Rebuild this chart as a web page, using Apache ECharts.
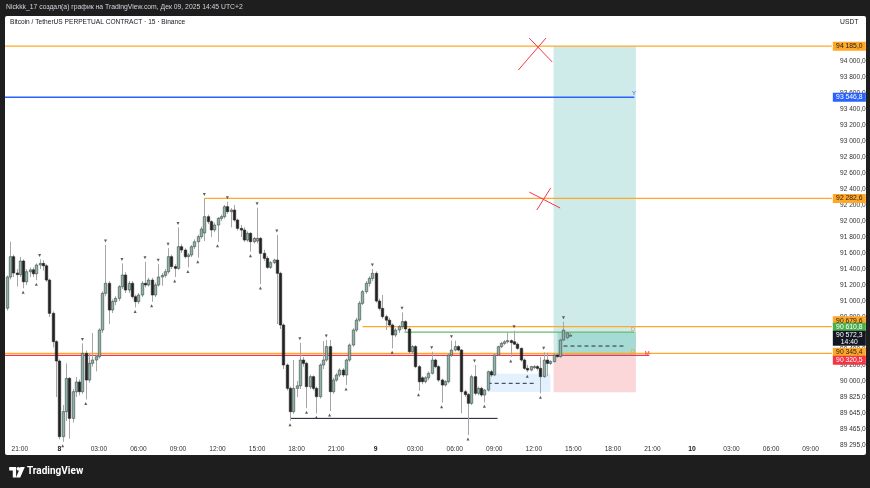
<!DOCTYPE html>
<html><head><meta charset="utf-8">
<script src="https://cdn.jsdelivr.net/npm/echarts@6/dist/echarts.min.js"></script>
<style>
html,body{margin:0;padding:0;background:#1e1e1e;width:870px;height:488px;overflow:hidden}
#panel{position:absolute;left:5px;top:16px;width:861px;height:439px;background:#fff;border-radius:2px}
#logo{position:absolute;left:9px;top:467px}
#chart{position:absolute;left:0;top:0;width:870px;height:488px}
</style></head><body>
<div id="panel"></div>
<svg id="logo" width="16" height="11" viewBox="0 0 17 12"><path d="M0 0h7.5v11.5h-3.6v-7.8h-3.9z" fill="#fff"/><circle cx="10" cy="2" r="2" fill="#fff"/><path d="M12.2 0h4.8l-5 11.5h-4.6z" fill="#fff"/></svg>
<div id="chart"></div>
<script>
// ---- data (15-minute candles, first one Dec 7 20:00) ----
const opens  = [90910,91300,91554,91350,91330,91500,91240,91366,91390,91340,91450,91470,91440,91262,90846,90492,90250,89304,89617,90033,89533,89866,89987,89866,90346,90012,90221,90262,90304,90637,91096,91221,90887,90992,91033,91179,91325,91137,91221,91054,90992,91075,91221,91200,91262,91075,91200,91300,91320,91366,91554,91430,91408,91679,91637,91554,91575,91679,91740,91804,91850,92054,91992,91888,91950,92033,92054,92179,92117,92137,92012,91908,91887,91762,91846,91741,91750,91783,91596,91533,91420,91480,91512,91346,90700,90200,89908,89616,89908,89940,90262,90220,89929,90054,89908,89804,90200,90262,90430,89866,90012,90075,90137,90075,90262,90450,90637,90762,90971,91117,91221,91283,91346,91000,90908,90804,90760,90700,90575,90637,90679,90742,90650,90366,90430,90179,90040,89992,90040,90096,90262,90179,90012,89950,89992,90325,90387,90430,90387,89866,89830,89721,90054,89846,89908,89825,89887,90116,90075,90325,90429,90470,90490,90505,90490,90460,90408,90262,90158,90137,90170,90180,90158,90054,90262,90220,90242,90325,90304,90512,90540,90560];
const closes = [91300,91554,91350,91330,91500,91240,91366,91390,91340,91450,91470,91440,91262,90846,90492,90250,89304,89617,90033,89533,89866,89987,89866,90346,90012,90221,90262,90304,90637,91096,91221,90887,90992,91033,91179,91325,91137,91221,91054,90992,91075,91221,91200,91262,91075,91200,91300,91320,91366,91554,91430,91408,91679,91637,91554,91575,91679,91740,91804,91900,92054,91992,91888,91950,92033,92054,92179,92117,92137,92012,91908,91887,91762,91846,91741,91783,91783,91596,91533,91420,91480,91512,91346,90700,90200,89908,89616,89908,89940,90262,90220,89929,90054,89908,89804,90200,90262,90430,89866,90012,90075,90137,90075,90262,90450,90637,90762,90971,91117,91221,91283,91346,91000,90908,90804,90760,90700,90575,90637,90679,90742,90650,90366,90430,90179,89990,89992,90040,90096,90262,90179,90012,89950,89992,90325,90387,90430,90387,89866,89830,89721,90054,89846,89908,89825,89887,90116,90075,90325,90429,90470,90490,90505,90480,90460,90408,90262,90158,90137,90180,90180,90158,90054,90262,90220,90242,90325,90304,90512,90637,90600,90572.3];
const lows   = [90880,91270,91300,91180,91300,91160,91200,91300,91300,91260,91400,91380,91240,90800,90420,89800,89270,89240,89500,89280,89480,89800,89820,89840,89770,89980,90180,90120,90280,90600,91060,90710,90850,90950,91000,91150,91100,91100,91030,90920,90960,91050,91170,91180,90990,91050,91180,91190,91290,91340,91400,91300,91390,91600,91530,91420,91550,91650,91540,91780,91750,91960,91800,91860,91740,92000,92030,92090,91920,91990,91880,91800,91740,91740,91617,91720,91720,91212,91500,91400,91400,91460,90712,90650,90150,89880,89504,89590,89800,89900,90180,89660,89900,89880,89596,89780,90150,90240,89625,89840,89990,90050,90050,89950,90240,90430,90610,90740,90950,91090,91180,91250,90980,90880,90780,90637,90680,90408,90550,90600,90650,90620,90340,90340,90160,89879,89960,89970,90010,90080,90160,89990,89729,89930,89970,90300,90370,90370,89596,89800,89325,89700,89820,89820,89800,89733,89870,90050,90060,90310,90410,90450,90470,90300,90450,90390,90240,90140,90110,90120,90150,90130,89846,90040,90060,90200,90230,90290,90290,90500,90520,90555];
const highs  = [91320,91740,91580,91400,91550,91520,91400,91420,91420,91470,91520,91510,91460,91280,90870,90510,90270,89700,90220,90050,89900,90050,90020,90470,90380,90350,90600,90330,90660,91120,91700,91250,91020,91060,91200,91470,91360,91250,91250,91080,91100,91250,91490,91290,91290,91230,91460,91350,91400,91660,91580,91460,91920,91710,91660,91600,91700,91770,91830,91930,92282,92080,92010,91980,92050,92080,92200,92241,92160,92200,92030,91950,91920,91870,91860,91800,92166,91800,91640,91560,91500,91530,91825,91366,90720,90220,89930,90262,90000,90479,90300,90240,90080,90070,89930,90220,90500,90512,90512,90040,90100,90160,90160,90280,90470,90660,90790,91000,91140,91250,91310,91400,91370,91030,91075,90830,90790,90720,90660,90700,90858,90760,90670,90450,90450,90200,90060,90060,90120,90366,90280,90200,90030,90010,90340,90504,90504,90450,90400,89890,89850,90080,90200,89930,89930,89900,90130,90140,90340,90440,90490,90510,90608,90520,90629,90480,90420,90283,90200,90190,90200,90200,90300,90358,90355,90260,90340,90350,90530,90742,90615,90600];

// price axis tick labels that differ from the plain tick value
const yTickValues = [89800, 89600, 89400, 89200];
const yTickLabels = ['89 825,0', '89 645,0', '89 465,0', '89 295,0'];

// drawn horizontal levels
const levelPrices = [94185.0, 93546.8, 92282.6, 90679.6, 90610.8, 90345.4, 90320.5];
const lastPrice = 90572.3;
const countdown = '14:40';

const N_CAT = 251;
const startMs = Date.UTC(2025, 11, 7, 20, 0);
const categories = [];
for (let i = 0; i < N_CAT; i++) {
  const d = new Date(startMs + i * 900000);
  categories.push(d.getUTCDate() + '|' + String(d.getUTCHours()).padStart(2,'0') + ':' + String(d.getUTCMinutes()).padStart(2,'0'));
}

function fmtPrice(v) {
  const s = Number(v).toFixed(1);
  const parts = s.split('.');
  return parts[0].replace(/\B(?=(\d{3})+(?!\d))/g, ' ') + ',' + parts[1];
}

const candleData = opens.map((o, i) => [i, o, closes[i], lows[i], highs[i]]);

// Williams fractals (2 bars each side)
const fracHigh = [], fracLow = [];
for (let i = 2; i < highs.length - 2; i++) {
  if (highs[i] > highs[i-1] && highs[i] > highs[i-2] && highs[i] >= highs[i+1] && highs[i] >= highs[i+2]) fracHigh.push([i, highs[i]]);
  if (lows[i] < lows[i-1] && lows[i] < lows[i-2] && lows[i] <= lows[i+1] && lows[i] <= lows[i+2]) fracLow.push([i, lows[i]]);
}

const FONT = 'Liberation Sans';
const ORANGE = '#ffa726', BLUE = '#2962ff', GREEN = '#66bb6a', RED = '#f23645', DARK = '#131722';
const XR = 250.45; // right edge on the value x axis
// line drawings: [x1, price1, x2, price2, color, dash, width]
const drawings = [
  [-0.5, levelPrices[0], XR, levelPrices[0], ORANGE, 'solid', 1.3],
  [-0.5, levelPrices[1], 190.5, levelPrices[1], BLUE, 'solid', 1.3],
  [60, levelPrices[2], XR, levelPrices[2], ORANGE, 'solid', 1.3],
  [108, levelPrices[3], XR, levelPrices[3], ORANGE, 'solid', 1.3],
  [120.7, levelPrices[4], 190.5, levelPrices[4], GREEN, 'solid', 1.3],
  [-0.5, levelPrices[6], 195, levelPrices[6], RED, 'solid', 1.3],
  [-0.5, levelPrices[5], XR, levelPrices[5], ORANGE, 'solid', 1.3],
  [86, 89533, 149, 89533, DARK, 'solid', 1],
  [146, 89971, 160, 89971, '#2a2e39', 'dashed', 1],
  [169, 90437, 188, 90437, '#2a2e39', 'dashed', 1],
  [155.3, 93887, 163.7, 94287, RED, 'solid', 1],
  [158.6, 94287, 165.6, 93987, RED, 'solid', 1],
  [158.6, 92362, 168, 92162, RED, 'solid', 1],
  [160.9, 92137, 165.1, 92412, RED, 'solid', 1]
];

function renderDrawing(params, api) {
  const d = drawings[params.dataIndex];
  const p1 = api.coord([d[0], d[1]]), p2 = api.coord([d[2], d[3]]);
  return {type: 'line', shape: {x1: p1[0], y1: p1[1], x2: p2[0], y2: p2[1]},
    style: {stroke: d[4], lineWidth: d[6], lineDash: d[5] === 'dashed' ? [4, 3] : null}};
}

function tag(price, text, bg, fg, dy, h) {
  return {coord: [XR, price], symbol: 'rect', symbolSize: [33, h || 9], symbolOffset: [17.5, dy],
    itemStyle: {color: bg}, label: {show: true, formatter: text, color: fg, fontSize: 6.8, lineHeight: 7, fontFamily: FONT}};
}
function note(x, price, text, color) {
  return {coord: [x, price], symbol: 'rect', symbolSize: 0.1,
    label: {show: true, formatter: text, color: color, fontSize: 6, fontFamily: FONT, position: 'inside'}};
}

function renderCandle(params, api) {
  const i = api.value(0), o = api.value(1), c = api.value(2), l = api.value(3), h = api.value(4);
  const pO = api.coord([i, o]), pC = api.coord([i, c]), pL = api.coord([i, l]), pH = api.coord([i, h]);
  const w = api.size([1, 0])[0] * 0.74;
  const x = Math.round(pO[0]) + 0.5;
  const top = Math.min(pO[1], pC[1]), bot = Math.max(pO[1], pC[1]);
  const up = c >= o;
  return {type: 'group', children: [
    {type: 'line', shape: {x1: x, y1: pH[1], x2: x, y2: pL[1]}, style: {stroke: '#a6a6a6', lineWidth: 1}},
    {type: 'rect', shape: {x: x - w / 2, y: top, width: w, height: Math.max(bot - top, 1)},
     style: {fill: up ? '#8fb3ab' : '#222222', stroke: up ? '#3a4643' : '#222222', lineWidth: 0.6}}
  ]};
}

const chart = echarts.init(document.getElementById('chart'), null, {renderer: 'canvas'});
chart.setOption({
  animation: false,
  backgroundColor: 'transparent',
  title: [
    {text: 'Nickkk_17 создал(а) график на TradingView.com, Дек 09, 2025 14:45 UTC+2', left: 6, top: 4, padding: 0,
     textStyle: {fontSize: 6.8, color: '#d1d4dc', fontWeight: 'normal', fontFamily: FONT}},
    {text: 'Bitcoin / TetherUS PERPETUAL CONTRACT · 15 · Binance', left: 10, top: 18.5, padding: 0,
     textStyle: {fontSize: 6.6, color: DARK, fontWeight: 'normal', fontFamily: FONT}},
    {text: 'USDT', left: 840, top: 19, padding: 0, textStyle: {fontSize: 6.8, color: DARK, fontWeight: 'normal', fontFamily: FONT}},
    {text: 'TradingView', left: 27, top: 466.5, padding: 0, textStyle: {fontSize: 10, color: '#ffffff', fontWeight: 'bold', fontFamily: 'Roboto'}}
  ],
  grid: {left: 5, right: 38, top: 17, bottom: 43, containLabel: false},
  xAxis: [
    {type: 'category', data: categories, boundaryGap: true,
     axisLine: {show: false}, axisTick: {show: false}, splitLine: {show: false},
     axisLabel: {
       margin: 1, fontSize: 6.6, color: '#333', fontFamily: FONT,
       interval: function (idx, val) { const t = val.split('|')[1]; return t.slice(3) === '00' && (+t.slice(0,2)) % 3 === 0; },
       formatter: function (val) { const p = val.split('|'); return p[1] === '00:00' ? '{b|' + p[0] + '}' : p[1]; },
       rich: {b: {fontWeight: 'bold', fontSize: 6.8, color: '#131722', fontFamily: FONT}}
     }},
    {type: 'value', min: -0.5, max: N_CAT - 0.5, show: false}
  ],
  yAxis: {type: 'value', position: 'right', min: 89200, max: 94550, interval: 200, scale: true,
    axisLine: {show: false}, axisTick: {show: false}, splitLine: {show: false},
    axisLabel: {fontSize: 6.6, color: '#333', margin: 8, fontFamily: FONT, showMaxLabel: false,
      formatter: function (v) {
        if (v > 94100) return '';
        const k = yTickValues.indexOf(v);
        return k >= 0 ? yTickLabels[k] : fmtPrice(v);
      }}},
  series: [
    {type: 'line', xAxisIndex: 1, data: [[0, 90000]], showSymbol: false, lineStyle: {opacity: 0}, silent: true, z: 1,
     markArea: {silent: true, data: [
       [{coord: [166, levelPrices[0]], itemStyle: {color: 'rgba(38,166,154,0.22)'}}, {coord: [191, levelPrices[6]]}],
       [{coord: [166, levelPrices[6]], itemStyle: {color: 'rgba(242,54,69,0.2)'}}, {coord: [191, 89858]}],
       [{coord: [167.2, 90612], itemStyle: {color: 'rgba(38,166,154,0.25)'}}, {coord: [191, levelPrices[6]]}],
       [{coord: [146, 90090], itemStyle: {color: 'rgba(33,150,243,0.13)'}}, {coord: [165, 89862]}]
     ]},
     markPoint: {silent: true, animation: false, z: 10, data: [
       tag(levelPrices[0], fmtPrice(levelPrices[0]), ORANGE, '#222', 0),
       tag(levelPrices[1], fmtPrice(levelPrices[1]), BLUE, '#fff', 0),
       tag(levelPrices[2], fmtPrice(levelPrices[2]), ORANGE, '#222', 0),
       tag(levelPrices[3], fmtPrice(levelPrices[3]), ORANGE, '#222', -6),
       tag(levelPrices[4], fmtPrice(levelPrices[4]), '#4caf50', '#fff', -5),
       tag(lastPrice, fmtPrice(lastPrice) + '\n' + countdown, DARK, '#fff', 3, 15),
       tag(levelPrices[5], fmtPrice(levelPrices[5]), ORANGE, '#222', -1),
       tag(levelPrices[6], fmtPrice(levelPrices[6]), RED, '#fff', 5),
       note(190.4, 93600, 'Y', BLUE),
       note(190.1, 90650, 'D', '#d9a066'),
       note(190.1, 90375, 'D', ORANGE),
       note(194.4, 90350, 'M', RED)
     ]}},
    {type: 'custom', xAxisIndex: 1, renderItem: renderDrawing, data: drawings.map((d, k) => [k, d[1]]),
     encode: {x: 0, y: 1}, z: 2, clip: false, silent: true},
    {type: 'custom', xAxisIndex: 0, renderItem: renderCandle, data: candleData,
     encode: {x: 0, y: [1, 2, 3, 4]}, z: 3, clip: true},
    {type: 'scatter', xAxisIndex: 0, data: fracHigh, symbol: 'triangle', symbolRotate: 180, symbolSize: 3,
     symbolOffset: [0, -4], itemStyle: {color: '#333'}, z: 4, silent: true},
    {type: 'scatter', xAxisIndex: 0, data: fracLow, symbol: 'triangle', symbolSize: 3,
     symbolOffset: [0, 4], itemStyle: {color: '#333'}, z: 4, silent: true}
  ]
});
</script>
</body></html>
